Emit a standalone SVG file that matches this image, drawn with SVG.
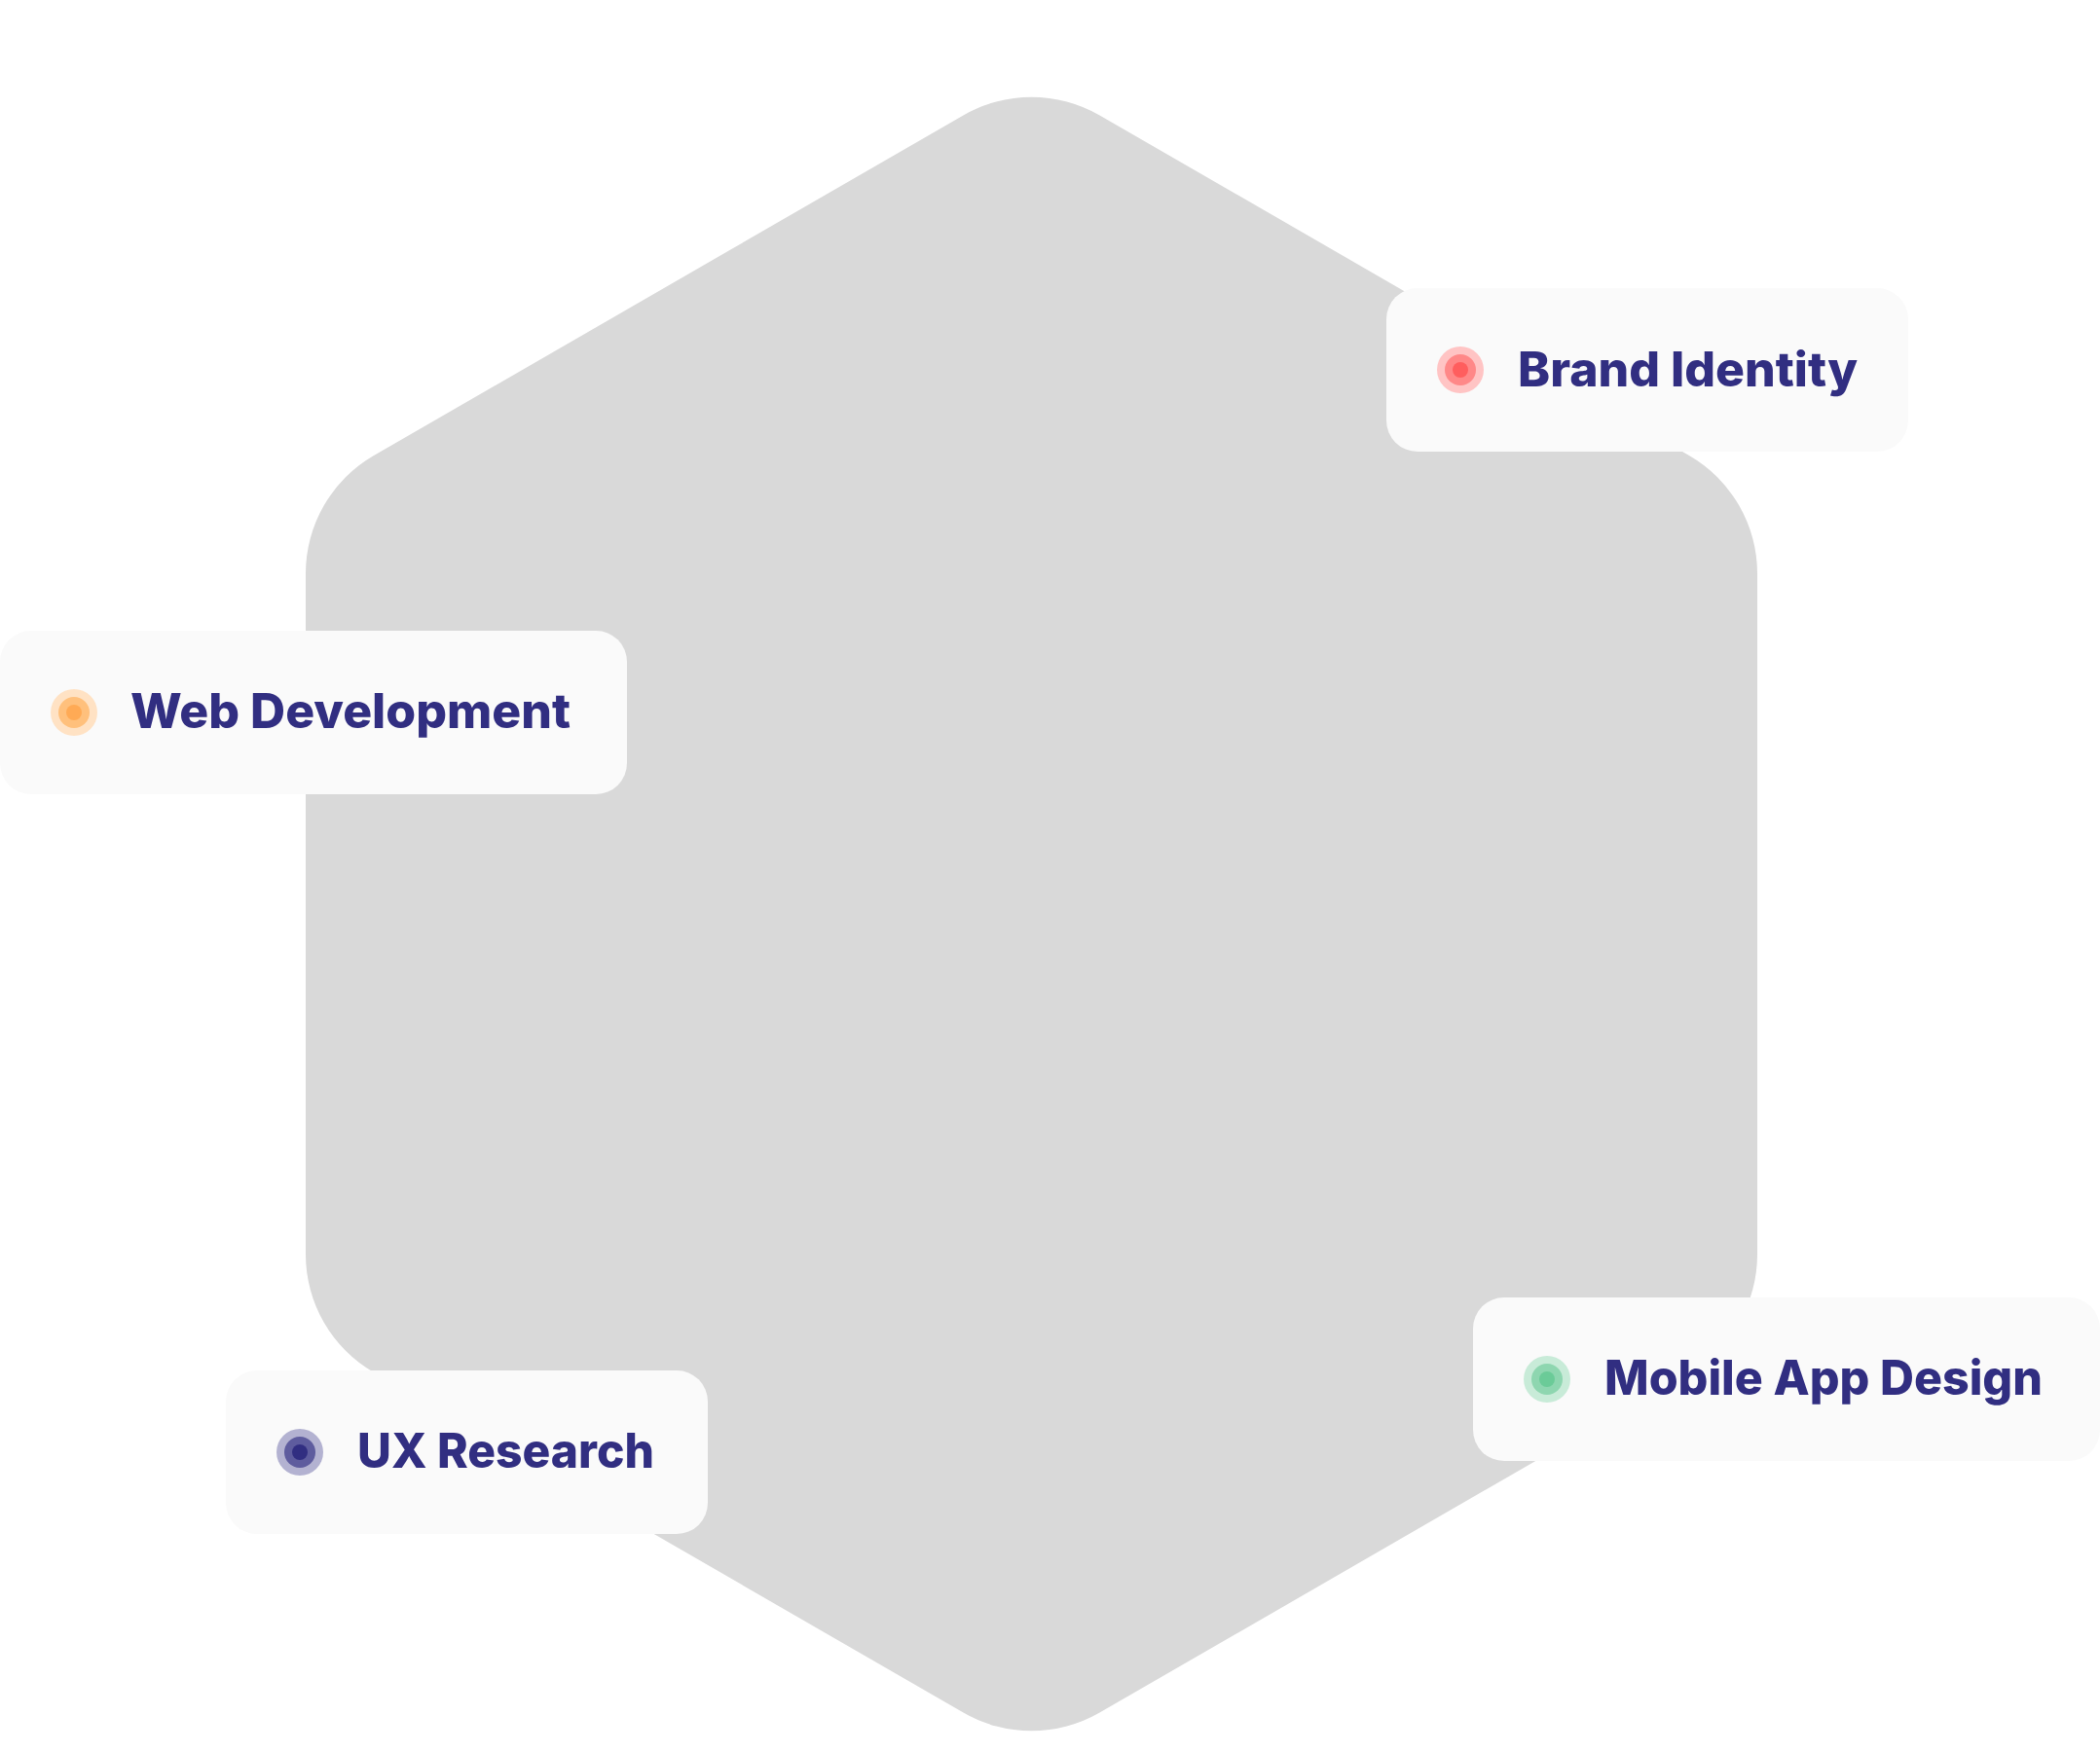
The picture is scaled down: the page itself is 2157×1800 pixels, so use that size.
<svg xmlns="http://www.w3.org/2000/svg" width="2157" height="1800" viewBox="0 0 2157 1800">
  <style>
    .card { fill: #FAFAFA; }
    .label { font-family: "Inter", "Liberation Sans", sans-serif; font-weight: 800; font-size: 49px; fill: #312E81; }
  </style>
  <rect width="2157" height="1800" fill="#FFFFFF"/>

  <!-- Central rounded hexagon -->
  <g id="hexagon">
    <path fill="#D9D9D9" d="M989.5,118.4 A140,140 0 0 1 1129.5,118.4 L1735,468.1 A140,140 0 0 1 1805,589.3 L1805,1288.7 A140,140 0 0 1 1735,1409.9 L1129.5,1759.6 A140,140 0 0 1 989.5,1759.6 L384,1409.9 A140,140 0 0 1 314,1288.7 L314,589.3 A140,140 0 0 1 384,468.1 Z"/>
  </g>

  <g id="brand-identity">
    <rect class="card" x="1424" y="296" width="536" height="168" rx="32"/>
    <circle cx="1500" cy="380" r="24" fill="#FFC4C4"/>
    <circle cx="1500" cy="380" r="16" fill="#FF8888"/>
    <circle cx="1500" cy="380" r="8" fill="#FF5E5E"/>
    <text class="label" x="1559" y="397" textLength="349" lengthAdjust="spacingAndGlyphs">Brand Identity</text>
  </g>

  <g id="web-development">
    <rect class="card" x="0" y="648" width="644" height="168" rx="32"/>
    <circle cx="76" cy="732" r="24" fill="#FFE2C4"/>
    <circle cx="76" cy="732" r="16" fill="#FFC07C"/>
    <circle cx="76" cy="732" r="8" fill="#FFAA55"/>
    <text class="label" x="134" y="748" textLength="452" lengthAdjust="spacingAndGlyphs">Web Development</text>
  </g>

  <g id="ux-research">
    <rect class="card" x="232" y="1408" width="495" height="168" rx="32"/>
    <circle cx="308" cy="1492" r="24" fill="#B3B2D1"/>
    <circle cx="308" cy="1492" r="16" fill="#5E5C9E"/>
    <circle cx="308" cy="1492" r="8" fill="#312E81"/>
    <text class="label" x="367" y="1508" textLength="305" lengthAdjust="spacingAndGlyphs">UX Research</text>
  </g>

  <g id="mobile-app-design">
    <rect class="card" x="1513" y="1333" width="644" height="168" rx="32"/>
    <circle cx="1589" cy="1417" r="24" fill="#C8EBD8"/>
    <circle cx="1589" cy="1417" r="16" fill="#8ED6B0"/>
    <circle cx="1589" cy="1417" r="8" fill="#6BCB98"/>
    <text class="label" x="1648" y="1433" textLength="450" lengthAdjust="spacingAndGlyphs">Mobile App Design</text>
  </g>
</svg>
